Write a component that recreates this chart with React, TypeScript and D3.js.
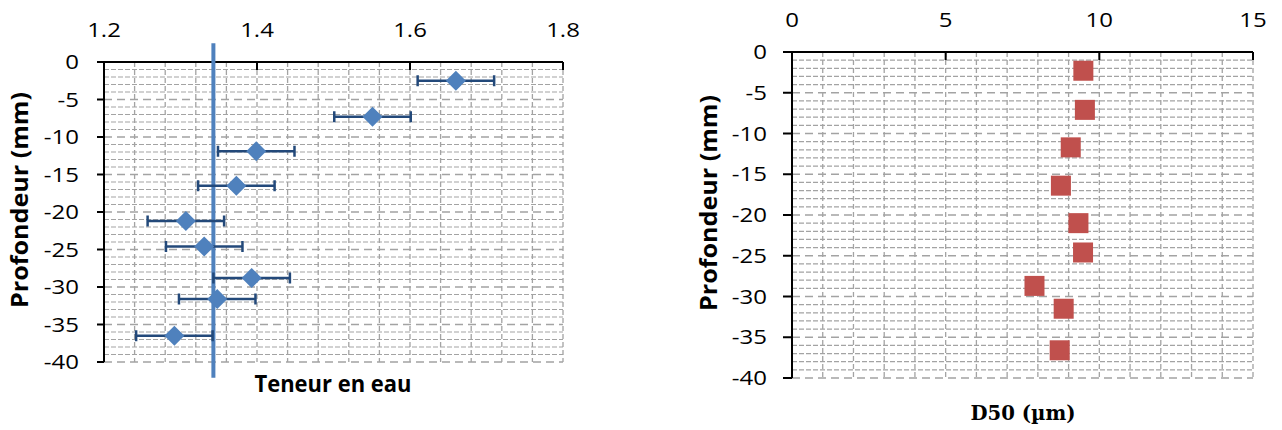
import React from "react";
import * as d3 from "d3";

// ---- Data ----
const depthTeneur = [-2.5, -7.3, -11.9, -16.5, -21.2, -24.6, -28.8, -31.6, -36.5];
const teneur = [1.66, 1.551, 1.399, 1.373, 1.307, 1.331, 1.393, 1.348, 1.292];
const teneurErr = [0.05, 0.05, 0.05, 0.05, 0.05, 0.05, 0.05, 0.05, 0.05];
const refLineX = 1.343;
const refLineY = [2.5, -42.1];

const depthD50 = [-2.3, -7.1, -11.7, -16.4, -21.0, -24.6, -28.7, -31.5, -36.6];
const d50 = [9.48, 9.53, 9.07, 8.75, 9.32, 9.47, 7.89, 8.84, 8.71];

const xTicksLeft = [1.2, 1.4, 1.6, 1.8];
const xTicksRight = [0, 5, 10, 15];
const yTicks = [0, -5, -10, -15, -20, -25, -30, -35, -40];

const GRID = "#A3A3A3";
const FONT = "'Open Sans', sans-serif";

function Txt({ x, y, children, anchor = "middle", size = 20, weight = 400, family = FONT, sx = 1.2, rotate = 0, length }: any) {
  return (
    <g transform={`translate(${x},${y}) rotate(${rotate}) scale(${sx},1)`}>
      <text
        textAnchor={anchor}
        fontSize={size}
        fontWeight={weight}
        fontFamily={family}
        fill="#000"
        textLength={length}
        lengthAdjust={length ? "spacingAndGlyphs" : undefined}
      >
        {children}
      </text>
    </g>
  );
}

function Grid({ x, y, xMinor }: any) {
  const [x0, x1] = x.range();
  const [y0, y1] = y.range();
  const hs = d3.range(-1, -41, -1);
  return (
    <g>
      {hs.map((v: number) => (
        <line
          key={"h" + v}
          x1={x0}
          x2={x1}
          y1={y(v)}
          y2={y(v)}
          stroke={GRID}
          strokeWidth={v % 5 === 0 ? 1.5 : 1.2}
          strokeDasharray={v % 5 === 0 ? "8,5" : "5,2"}
        />
      ))}
      {xMinor.map((v: number, i: number) => (
        <line key={"v" + i} x1={x(v)} x2={x(v)} y1={y0} y2={y1} stroke={GRID} strokeWidth={1.3} strokeDasharray="5,3" />
      ))}
    </g>
  );
}

function Axes({ x, y, xTicks, fmt, labelRight, tickLen }: any) {
  const [x0, x1] = x.range();
  const [y0, y1] = y.range();
  return (
    <g>
      <line x1={x0} x2={x1} y1={y0} y2={y0} stroke="#000" strokeWidth={2} />
      <line x1={x0} x2={x0} y1={y0} y2={y1} stroke="#000" strokeWidth={2} />
      {xTicks.map((t: number) => (
        <g key={"xt" + t}>
          <line x1={x(t)} x2={x(t)} y1={y0} y2={y0 + 8} stroke="#000" strokeWidth={2} />
          <Txt x={x(t)} y={y0 - 25}>{fmt(t)}</Txt>
        </g>
      ))}
      {yTicks.map((t: number) => (
        <g key={"yt" + t}>
          <line x1={x0 - tickLen} x2={x0} y1={y(t)} y2={y(t)} stroke="#000" strokeWidth={2} />
          <Txt x={labelRight} y={y(t) + 7} anchor="end">{t}</Txt>
        </g>
      ))}
    </g>
  );
}

export default function App() {
  const xL = d3.scaleLinear().domain([1.2, 1.8]).range([104, 563]);
  const yL = d3.scaleLinear().domain([0, -40]).range([62, 362]);
  const xR = d3.scaleLinear().domain([0, 15]).range([792, 1253]);
  const yR = d3.scaleLinear().domain([0, -40]).range([52, 378]);

  const minorL = d3.range(1, 16).map((i) => 1.2 + i * 0.04);
  const minorR = d3.range(1, 16);

  const dPath = (r: number) => `M0,${-r}L${r},0L0,${r}L${-r},0Z`;
  const ERR = "#23497A";

  return (
    <svg width={1282} height={430} style={{ position: "absolute", left: 0, top: 0, background: "#fff" }}>
      {/* Left chart */}
      <Grid x={xL} y={yL} xMinor={minorL} />
      <Axes x={xL} y={yL} xTicks={xTicksLeft} fmt={(t: number) => t.toFixed(1)} labelRight={79} tickLen={7} />
      <line x1={xL(refLineX)} x2={xL(refLineX)} y1={yL(refLineY[0])} y2={yL(refLineY[1])} stroke="#4F81BD" strokeWidth={4} />
      {teneur.map((v, i) => {
        const cy = yL(depthTeneur[i]);
        const a = xL(v - teneurErr[i]);
        const b = xL(v + teneurErr[i]);
        return (
          <g key={"e" + i}>
            <line x1={a} x2={b} y1={cy} y2={cy} stroke={ERR} strokeWidth={2.5} />
            <line x1={a} x2={a} y1={cy - 5.5} y2={cy + 5.5} stroke={ERR} strokeWidth={2.5} />
            <line x1={b} x2={b} y1={cy - 5.5} y2={cy + 5.5} stroke={ERR} strokeWidth={2.5} />
          </g>
        );
      })}
      {teneur.map((v, i) => (
        <path key={"d" + i} d={dPath(10)} transform={`translate(${xL(v)},${yL(depthTeneur[i])})`} fill="#4F81BD" />
      ))}
      <Txt x={20} y={200} rotate={-90} size={23} weight={700} sx={1} length={216}>
        <tspan dy={8}>Profondeur (mm)</tspan>
      </Txt>
      <Txt x={333} y={392} size={23} weight={700} sx={1} length={157}>Teneur en eau</Txt>

      {/* Right chart */}
      <Grid x={xR} y={yR} xMinor={minorR} />
      <Axes x={xR} y={yR} xTicks={xTicksRight} fmt={(t: number) => String(t)} labelRight={767} tickLen={9} />
      {d50.map((v, i) => (
        <rect key={"s" + i} x={xR(v) - 10} y={yR(depthD50[i]) - 10} width={20} height={20} fill="#C0504D" />
      ))}
      <Txt x={709} y={203} rotate={-90} size={23} weight={700} sx={1} length={216}>
        <tspan dy={8}>Profondeur (mm)</tspan>
      </Txt>
      <Txt x={1023} y={420} size={21} weight={700} sx={1} family="'DejaVu Serif', serif" length={105}>D50 (µm)</Txt>
    </svg>
  );
}
